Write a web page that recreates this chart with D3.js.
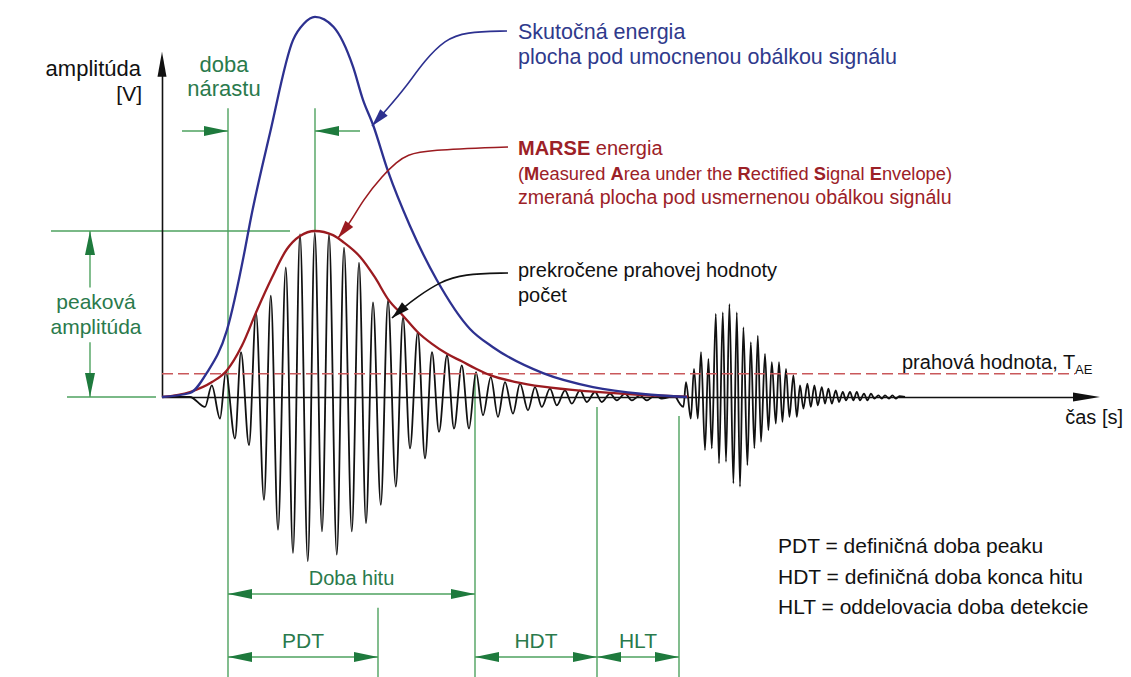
<!DOCTYPE html>
<html><head><meta charset="utf-8">
<script src="https://cdn.jsdelivr.net/npm/d3@7"></script>
<style>
body{margin:0;background:#fff}
svg{display:block}
text{font-family:"Liberation Sans",Arial,Helvetica,sans-serif}
</style>
</head><body>
<svg id="c" width="1131" height="677"></svg>
<script>
// ---------------- DATA (time in µs, amplitude normalised to peak = 1) ----------------
// first AE hit: alternating extremes of the oscillation [time, amplitude]
const hit1Signal = [[0,0],[14,0],[21.5,-0.06],[24.9,0.07],[29.0,-0.13],[31.9,0.15],[36.5,-0.25],[39.5,0.27],[43.5,-0.29],[47.0,0.51],[51.0,-0.62],[54.4,0.61],[58.0,-0.80],[61.9,0.78],[65.5,-0.94],[69.0,0.98],[72.9,-0.99],[76.4,0.99],[80.0,-0.81],[83.5,0.98],[87.4,-0.95],[91.0,0.90],[94.9,-0.81],[98.5,0.81],[102.0,-0.76],[105.5,0.57],[109.4,-0.65],[113.0,0.58],[116.9,-0.54],[120.5,0.48],[124.0,-0.31],[127.9,0.39],[131.5,-0.37],[135.0,0.27],[138.5,-0.21],[142.5,0.25],[146.0,-0.19],[149.9,0.19],[153.5,-0.19],[157.0,0.15],[160.5,-0.11],[164.4,0.12],[168.0,-0.12],[171.5,0.09],[175.5,-0.10],[179.0,0.08],[183.0,-0.08],[186.5,0.06],[189.9,-0.06],[194.0,0.05],[197.4,-0.05],[201.5,0.04],[204.9,-0.04],[209.0,0.04],[212.4,-0.03],[216.5,0.03],[219.9,-0.03],[224.0,0.02],[227.4,-0.02],[231.5,0.02],[234.9,-0.02],[239.0,0.01],[242.4,-0.02],[246.5,0.01],[249.9,-0.01],[254,0]];
// second AE hit
const hit2Signal = [[257,0],[260.7,-0.06],[262.0,0.09],[264.4,-0.13],[266.0,0.17],[267.9,-0.13],[269.5,0.27],[271.5,-0.32],[273.2,0.23],[274.9,-0.31],[276.9,0.50],[278.5,-0.40],[280.4,0.51],[282.0,-0.39],[283.7,0.56],[285.7,-0.52],[287.4,0.51],[289.0,-0.54],[290.7,0.42],[292.7,-0.41],[294.4,0.33],[296.2,-0.31],[297.9,0.37],[299.5,-0.27],[301.5,0.26],[303.2,-0.20],[304.9,0.21],[306.9,-0.16],[308.5,0.21],[310.2,-0.15],[312.0,0.17],[313.7,-0.12],[315.7,0.13],[317.4,-0.12],[319.0,0.07],[320.7,-0.07],[322.7,0.08],[324.4,-0.06],[326.2,0.07],[327.9,-0.05],[329.9,0.06],[331.5,-0.04],[333.2,0.05],[334.9,-0.04],[336.9,0.04],[338.5,-0.03],[340.4,0.03],[342.0,-0.02],[344.0,0.03],[345.7,-0.02],[347.4,0.03],[349.0,-0.02],[351.0,0.02],[352.7,-0.02],[354.5,0.02],[356.2,-0.01],[358.2,0.01],[359.9,-0.01],[361.5,0.01],[363.5,-0.01],[365.2,0.01],[366.9,-0.01],[368.7,0.005],[371.5,0]];
// MARSE envelope (rectified signal envelope)
const marseEnvelope = [[0,0],[14,0.03],[25,0.09],[32.4,0.16],[40,0.31],[47.4,0.52],[55,0.72],[62.4,0.89],[69,0.97],[76.5,1.0],[85.5,0.975],[91,0.93],[99,0.845],[106.5,0.72],[113,0.59],[120.5,0.49],[127.9,0.39],[135,0.32],[142.5,0.26],[149.9,0.215],[157,0.17],[164.4,0.13],[177,0.09],[190.5,0.062],[215.5,0.032],[240.5,0.012],[263,0.002]];
// true energy (squared envelope)
const energyEnvelope = [[0,0],[14,0.024],[22.4,0.145],[32.4,0.40],[41.5,0.89],[44,1.05],[54,1.59],[65.5,2.15],[71,2.25],[76.5,2.29],[85.7,2.23],[95.5,1.99],[100.5,1.79],[105.5,1.64],[113,1.36],[124,1.03],[137.4,0.705],[154,0.41],[165.5,0.30],[190.5,0.144],[215.5,0.06],[240.5,0.018],[262.5,0.0]];
const thresholdValue = 0.14;
// timing markers
const markerNames = ["hitStart","peak","pdtEnd","hitEnd","hdtEnd","hltEnd"];
const markerTimes = [33, 76.5, 108, 156.5, 217.5, 258.5];
const legendLines = ["PDT = definičná doba peaku","HDT = definičná doba konca hitu","HLT = oddelovacia doba detekcie"];

// ---------------- SCALES ----------------
const W = 1131, H = 677;
const svg = d3.select("#c");
svg.append("rect").attr("width",W).attr("height",H).attr("fill","#fff");
const x = d3.scaleLinear().domain([0,470]).range([162,1102]);
const y = d3.scaleLinear().domain([0,1]).range([397,231]);
const M = {}; markerNames.forEach((n,i)=>M[n]=markerTimes[i]);

const C = {
  green:"#4ea25f", greenDark:"#1e7a3d", greenText:"#2a7a4c",
  navy:"#2d3190", navyText:"#2f3a8c", red:"#9b1b20", redText:"#9c2127",
  dash:"#c9585b", black:"#111"
};

function arrowHead(g, tx, ty, ang, len, hw, col){
  const bx = tx - Math.cos(ang)*len, by = ty - Math.sin(ang)*len;
  const px = -Math.sin(ang)*hw, py = Math.cos(ang)*hw;
  g.append("path").attr("d",`M${tx},${ty}L${bx+px},${by+py}L${bx-px},${by-py}Z`).attr("fill",col);
}

// ---------------- GREEN DIMENSIONS ----------------
const gd = svg.append("g");
const gl = (x1,y1,x2,y2)=>gd.append("line").attr("x1",x1).attr("y1",y1).attr("x2",x2).attr("y2",y2)
  .attr("stroke",C.green).attr("stroke-width",1.4);
const aBottom = -1.72;
const extLines = [[M.hitStart,1.74,aBottom],[M.peak,1.74,1.0],[M.pdtEnd,-1.27,aBottom],[M.hitEnd,thresholdValue,aBottom],[M.hdtEnd,-0.06,aBottom],[M.hltEnd,-0.115,aBottom]];
extLines.forEach(d=>gl(x(d[0]),y(d[1]),x(d[0]),y(d[2])));
gl(x(-55.5),y(1),x(64),y(1));
gl(x(-47.5),y(0),x(-3),y(0));
const xPA = x(-36);
gl(xPA,y(1),xPA,y(0.66)); arrowHead(gd,xPA,y(1),-Math.PI/2,24,5,C.greenDark);
gl(xPA,y(0.33),xPA,y(0)); arrowHead(gd,xPA,y(0),Math.PI/2,24,5,C.greenDark);
const yRise = y(1.602);
gl(x(10),yRise,x(M.hitStart),yRise); arrowHead(gd,x(M.hitStart),yRise,0,24,5,C.greenDark);
gl(x(M.peak),yRise,x(99),yRise); arrowHead(gd,x(M.peak),yRise,Math.PI,24,5,C.greenDark);
function dimRow(t1,t2,a){
  const yy=y(a); gl(x(t1),yy,x(t2),yy);
  arrowHead(gd,x(t1),yy,Math.PI,24,5,C.greenDark);
  arrowHead(gd,x(t2),yy,0,24,5,C.greenDark);
}
dimRow(M.hitStart,M.hitEnd,-1.187);
dimRow(M.hitStart,M.pdtEnd,-1.566);
dimRow(M.hitEnd,M.hdtEnd,-1.566);
dimRow(M.hdtEnd,M.hltEnd,-1.566);

// ---------------- AXES ----------------
const xAxisScale = x.copy().domain([0,462]).range([x(0),x(462)]);
const gx = svg.append("g").attr("transform",`translate(0,${y(0)})`)
  .call(d3.axisBottom(xAxisScale).tickValues([]).tickSizeOuter(0));
gx.select(".domain").attr("stroke",C.black).attr("stroke-width",1.6);
arrowHead(svg,x(469),y(0),0,27,4.5,C.black);
const yAxisScale = d3.scaleLinear().domain([0,1.95]).range([y(0),y(1.95)]);
const gy = svg.append("g").attr("transform",`translate(${x(0)},0)`)
  .call(d3.axisLeft(yAxisScale).tickValues([]).tickSizeOuter(0));
gy.select(".domain").attr("stroke",C.black).attr("stroke-width",1.6);
arrowHead(svg,x(0),y(2.08),-Math.PI/2,25,4.5,C.black);

// ---------------- SIGNAL ----------------
const sigLine = d3.line().x(d=>x(d[0])).y(d=>y(d[1])).curve(d3.curveMonotoneX);
[hit1Signal,hit2Signal].forEach(s=>svg.append("path").attr("d",sigLine(s))
  .attr("fill","none").attr("stroke",C.black).attr("stroke-width",1.8));

svg.append("line").attr("x1",x(0)).attr("x2",x(456.5)).attr("y1",y(thresholdValue)).attr("y2",y(thresholdValue))
  .attr("stroke",C.dash).attr("stroke-width",1.7).attr("stroke-dasharray","11,5");

svg.append("path").attr("d",sigLine(marseEnvelope)).attr("fill","none").attr("stroke",C.red).attr("stroke-width",2.3);
svg.append("path").attr("d",sigLine(energyEnvelope)).attr("fill","none").attr("stroke",C.navy).attr("stroke-width",2.3);

// ---------------- LEADERS ----------------
const leaders = [
  {col:C.navy, pts:[[172.5,2.205],[151.5,2.199],[141.5,2.151],[131.5,2.03],[121.5,1.861],[113,1.741],[105,1.633]]},
  {col:C.red, pts:[[173,1.506],[132.5,1.488],[122.5,1.458],[117.5,1.416],[110.5,1.337],[100.5,1.187],[94,1.048],[88,0.958]]},
  {col:C.black, pts:[[173,0.747],[150.5,0.741],[139,0.693],[127.5,0.602],[120.5,0.536],[115,0.476]]}
];
const leadLine = d3.line().x(d=>x(d[0])).y(d=>y(d[1])).curve(d3.curveBasis);
leaders.forEach(L=>{
  svg.append("path").attr("d",leadLine(L.pts)).attr("fill","none").attr("stroke",L.col).attr("stroke-width",1.6);
  const n=L.pts.length, p1=L.pts[n-2], p2=L.pts[n-1];
  const ang=Math.atan2(y(p2[1])-y(p1[1]), x(p2[0])-x(p1[0]));
  arrowHead(svg,x(p2[0]),y(p2[1]),ang,18,5,L.col);
});

// ---------------- TEXT ----------------
function txt(s,xx,yy,opt={}){
  return svg.append("text").attr("x",xx).attr("y",yy).attr("font-size",opt.size||20)
    .attr("fill",opt.col||C.black).attr("text-anchor",opt.anchor||"start").text(s);
}
txt("amplitúda",141,76,{anchor:"end",size:22});
txt("[V]",142,101,{anchor:"end",size:21});
txt("doba",224,72,{anchor:"middle",col:C.greenText,size:22});
txt("nárastu",224,96,{anchor:"middle",col:C.greenText,size:22});
txt("peaková",96,309,{anchor:"middle",col:C.greenText,size:21});
txt("amplitúda",96,334,{anchor:"middle",col:C.greenText,size:21});
txt("Skutočná energia",518,39,{col:C.navyText,size:21.5});
txt("plocha pod umocnenou obálkou signálu",518,64,{col:C.navyText,size:21.5});
const m1 = svg.append("text").attr("x",518).attr("y",155).attr("font-size",20).attr("fill",C.redText);
m1.append("tspan").attr("font-weight","bold").text("MARSE");
m1.append("tspan").text(" energia");
const m2 = svg.append("text").attr("x",518).attr("y",180).attr("font-size",18.3).attr("fill",C.redText);
[["(",0],["M",1],["easured ",0],["A",1],["rea under the ",0],["R",1],["ectified ",0],["S",1],["ignal ",0],["E",1],["nvelope)",0]]
  .forEach(p=>m2.append("tspan").attr("font-weight",p[1]?"bold":"normal").text(p[0]));
txt("zmeraná plocha pod usmernenou obálkou signálu",518,204,{col:C.redText,size:19.6});
txt("prekročene prahovej hodnoty",518,277);
txt("počet",518,302);
const th = svg.append("text").attr("x",902).attr("y",369).attr("font-size",20).attr("fill",C.black);
th.append("tspan").text("prahová hodnota, T");
th.append("tspan").attr("font-size",13).attr("dy",5).text("AE");
txt("čas [s]",1123,424,{anchor:"end"});
txt("Doba hitu",x((M.hitStart+M.hitEnd)/2),585,{anchor:"middle",col:C.greenText});
txt("PDT",x((M.hitStart+M.pdtEnd)/2),648,{anchor:"middle",col:C.greenText,size:21});
txt("HDT",x((M.hitEnd+M.hdtEnd)/2),648,{anchor:"middle",col:C.greenText,size:21});
txt("HLT",x((M.hdtEnd+M.hltEnd)/2),648,{anchor:"middle",col:C.greenText,size:21});
legendLines.forEach((s,i)=>txt(s,778,553+i*30.5,{size:21}));
</script>
</body></html>
